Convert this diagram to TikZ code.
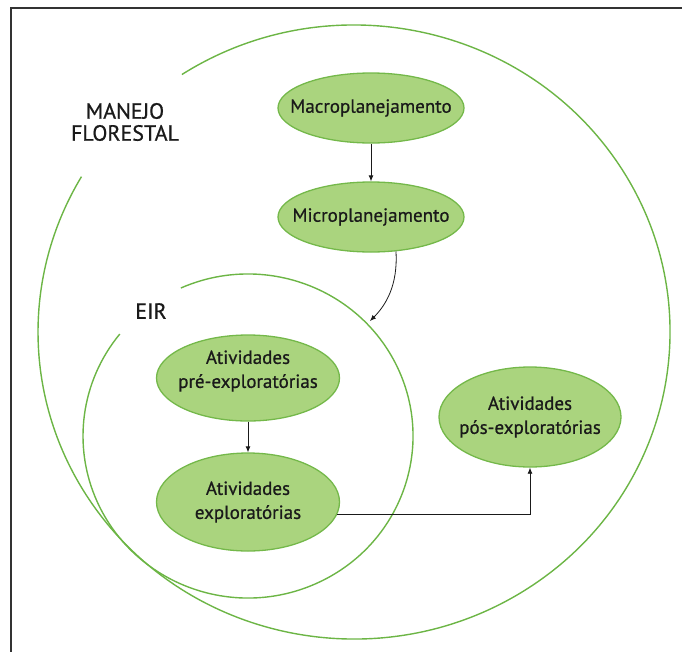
\documentclass[tikz,border=0pt]{standalone}
\usepackage{fontspec}
\setmainfont{PT Sans}
\newfontfamily\diafont{PT Sans}[FakeBold=0.7]
\usetikzlibrary{shapes.geometric,arrows.meta}
\definecolor{gline}{HTML}{6CB545}
\definecolor{gedge}{HTML}{74B84A}
\definecolor{gfill}{HTML}{AAD47E}
\definecolor{txtc}{HTML}{1A1A1A}
\begin{document}
\begin{tikzpicture}[x=1pt,y=-1pt,
  bubble/.style={ellipse, draw=gedge, fill=gfill, line width=1.3pt, inner sep=0pt},
  txt/.style={font=\diafont\fontsize{19}{24}\selectfont, align=center, text=txtc, inner sep=0pt},
  ringline/.style={draw=gline, line width=1.4pt},
  arr/.style={draw=txtc, line width=0.8pt, -{Latex[length=6pt,width=5pt]}},
  lbl/.style={font=\diafont\fontsize{22}{22}\selectfont, align=center, text=txtc, inner sep=0pt}]
\useasboundingbox (0,0) rectangle (682,651);
% frame
\draw[line width=1.5pt, black!80] (11,660) -- (11,8) -- (690,8);
% rings
\draw[ringline] (354,332) ++(237:316 and 307) arc[start angle=237, end angle=570.4, x radius=316, y radius=307];
\draw[ringline] (248,436) ++(246:165 and 162) arc[start angle=246, end angle=579, x radius=165, y radius=162];
% labels
\node[lbl] (manejo) at (125,122) {MANEJO\\FLORESTAL};
\node[lbl] (eir) at (151,311) {EIR};
% nodes
\node[bubble, minimum width=186pt, minimum height=70pt, label={[txt]center:Macroplanejamento}] (macro) at (371,108) {};
\node[bubble, minimum width=186pt, minimum height=70pt, label={[txt]center:Microplanejamento}] (micro) at (371,217) {};
\node[bubble, minimum width=183pt, minimum height=86pt, label={[txt,yshift=7pt]center:Atividades\\pré-exploratórias}] (pre) at (248,378) {};
\node[bubble, minimum width=183pt, minimum height=98pt, label={[txt]center:Atividades\\exploratórias}] (expl) at (248,502) {};
\node[bubble, minimum width=182pt, minimum height=100pt, label={[txt]center:Atividades\\pós-exploratórias}] (pos) at (530,417) {};
% connectors
\coordinate (eirtip) at (370,321);
\draw[arr] (macro) -- (micro);
\draw[arr] (micro.-54) .. controls (398,285) and (386,305) .. (eirtip);
\draw[arr] (pre) -- (expl);
\draw[arr] (expl.-8) -| (pos.south);
\end{tikzpicture}
\end{document}
